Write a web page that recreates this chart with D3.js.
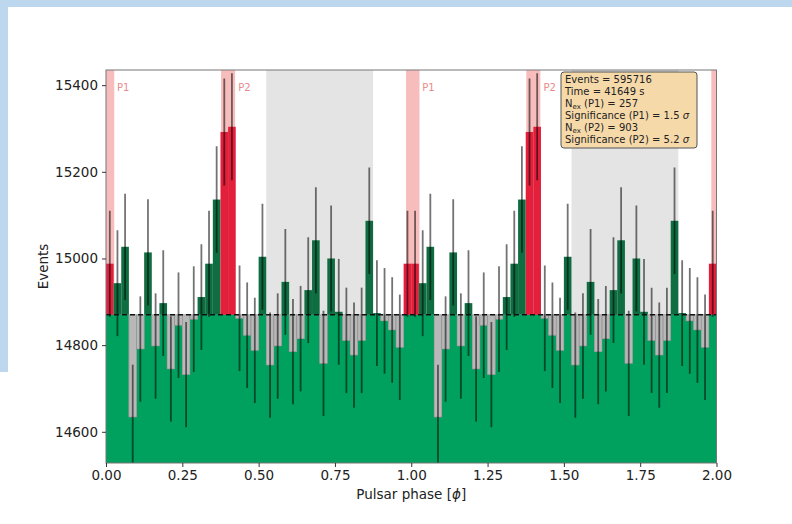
<!DOCTYPE html>
<html><head><meta charset="utf-8">
<script src="https://cdn.jsdelivr.net/npm/d3@7"></script>
<style>body{margin:0;background:#fff}svg{display:block}</style>
</head><body><svg id="c" width="792" height="524"></svg>
<script>
// ---- data ----
const counts = [
  14988,14943,15027,14634,14791,15014,14798,14897,14745,14846,
  14732,14860,14911,14988,15136,15292,15304,14862,14823,14788,
  15004,14754,14798,14946,14785,14815,14927,15042,14758,15000,
  14877,14811,14777,14811,15087,14874,14856,14835,14795,14988,
  14988,14943,15027,14634,14791,15014,14798,14897,14745,14846,
  14732,14860,14911,14988,15136,15292,15304,14862,14823,14788,
  15004,14754,14798,14946,14785,14815,14927,15042,14758,15000,
  14877,14811,14777,14811,15087,14874,14856,14835,14795,14988
];
const phaseRange = [0, 2];
const background = 14870;
const p1Bands = [[0, 0.027], [0.983, 1.027], [1.983, 2.0]];
const p2Bands = [[0.377, 0.423], [1.377, 1.423]];
const offPulseBands = [[0.525, 0.875], [1.525, 1.875]];
const bandLabels = [
  {text: "P1", phase: 0.036}, {text: "P2", phase: 0.433},
  {text: "P1", phase: 1.036}, {text: "P2", phase: 1.433}
];
const xTicks = [0, 0.25, 0.5, 0.75, 1.0, 1.25, 1.5, 1.75, 2.0];
const yTicks = [14600, 14800, 15000, 15200, 15400];
const yDomain = [14528, 15435];
const statsLines = [
  [{t: "Events = 595716"}],
  [{t: "Time = 41649 s"}],
  [{t: "N"}, {t: "ex", sub: true}, {t: " (P1) = 257", up: true}],
  [{t: "Significance (P1) = 1.5 "}, {t: "σ", it: true}],
  [{t: "N"}, {t: "ex", sub: true}, {t: " (P2) = 903", up: true}],
  [{t: "Significance (P2) = 5.2 "}, {t: "σ", it: true}]
];

// ---- layout ----
const W = 792, H = 524;
const L = 106, R = 716.5, T = 70, B = 463;
const svg = d3.select("#c");
const FONT = "DejaVu Sans, Liberation Sans, sans-serif";

svg.append("rect").attr("width", W).attr("height", H).attr("fill", "#fff");
svg.append("rect").attr("x", 0).attr("y", 0).attr("width", W).attr("height", 7).attr("fill", "#bdd7ee");
svg.append("rect").attr("x", 0).attr("y", 0).attr("width", 8).attr("height", 372).attr("fill", "#bdd7ee");

const x = d3.scaleLinear().domain(phaseRange).range([L, R]);
const y = d3.scaleLinear().domain(yDomain).range([B, T]);
const nb = counts.length;
const bw = (phaseRange[1] - phaseRange[0]) / nb;

svg.append("defs").append("clipPath").attr("id", "clip")
  .append("rect").attr("x", L).attr("y", T).attr("width", R - L).attr("height", B - T);
const g = svg.append("g").attr("clip-path", "url(#clip)");

// bands
g.selectAll("rect.off").data(offPulseBands).join("rect").attr("class", "off")
  .attr("x", d => x(d[0])).attr("width", d => x(d[1]) - x(d[0]))
  .attr("y", T).attr("height", B - T).attr("fill", "#e4e4e4");
const pinkBands = p1Bands.concat(p2Bands);
g.selectAll("rect.pink").data(pinkBands).join("rect").attr("class", "pink")
  .attr("x", d => x(d[0])).attr("width", d => x(d[1]) - x(d[0]))
  .attr("y", T).attr("height", B - T).attr("fill", "#f7bcbc");

const inBand = (c) => pinkBands.some(b => c >= b[0] && c <= b[1]);
const bins = counts.map((v, i) => {
  const x0 = phaseRange[0] + i * bw, x1 = x0 + bw, c = x0 + bw / 2;
  return {v, x0, x1, c, on: inBand(c)};
});

// base green as one step area
const stepPts = bins.map(d => ({p: d.x0, v: Math.min(d.v, background)}));
stepPts.push({p: phaseRange[1], v: Math.min(bins[nb - 1].v, background)});
g.append("path").datum(stepPts)
  .attr("d", d3.area().curve(d3.curveStepAfter).x(d => x(d.p)).y0(B).y1(d => y(d.v)))
  .attr("fill", "#00a05e");

// excess / deficit
g.selectAll("rect.ex").data(bins).join("rect").attr("class", "ex")
  .attr("x", d => x(d.x0)).attr("width", d => x(d.x1) - x(d.x0))
  .attr("y", d => y(Math.max(d.v, background)))
  .attr("height", d => Math.abs(y(d.v) - y(background)))
  .attr("fill", d => d.v >= background ? (d.on ? "#e3203c" : "#0f6d42") : "#b8b8b8")
  .attr("stroke", d => d.v >= background ? "none" : "#8a8a8a")
  .attr("stroke-width", 0.6);

// error bars
g.selectAll("line.err").data(bins).join("line").attr("class", "err")
  .attr("x1", d => x(d.c)).attr("x2", d => x(d.c))
  .attr("y1", d => y(d.v - Math.sqrt(d.v))).attr("y2", d => y(d.v + Math.sqrt(d.v)))
  .attr("stroke", "#000").attr("stroke-opacity", 0.55).attr("stroke-width", 1.8);

// background line
g.append("line").attr("x1", L).attr("x2", R).attr("y1", y(background)).attr("y2", y(background))
  .attr("stroke", "#111").attr("stroke-width", 1.4).attr("stroke-dasharray", "5,3");

// frame
svg.append("rect").attr("x", L).attr("y", T).attr("width", R - L).attr("height", B - T)
  .attr("fill", "none").attr("stroke", "#777").attr("stroke-width", 1);

// axes
const xAxis = svg.append("g").attr("transform", `translate(0,${B})`)
  .call(d3.axisBottom(x).tickValues(xTicks).tickFormat(d3.format(".2f")).tickSize(4).tickPadding(3));
const yAxis = svg.append("g").attr("transform", `translate(${L},0)`)
  .call(d3.axisLeft(y).tickValues(yTicks).tickFormat(d3.format("d")).tickSize(4).tickPadding(4));
[xAxis, yAxis].forEach(a => {
  a.select(".domain").remove();
  a.selectAll("line").attr("stroke", "#333");
  a.selectAll("text").attr("font-family", FONT).attr("font-size", 13.5).attr("fill", "#222");
});

const xl = svg.append("text").attr("x", (L + R) / 2).attr("y", 499).attr("text-anchor", "middle")
  .attr("font-family", FONT).attr("font-size", 13.5).attr("fill", "#222");
xl.append("tspan").text("Pulsar phase [");
xl.append("tspan").attr("font-style", "italic").text("ϕ");
xl.append("tspan").text("]");
svg.append("text").attr("transform", `translate(48,${(T + B) / 2}) rotate(-90)`)
  .attr("text-anchor", "middle").attr("font-family", FONT).attr("font-size", 13.5).attr("fill", "#222")
  .text("Events");

// band labels
svg.selectAll("text.bl").data(bandLabels).join("text").attr("class", "bl")
  .attr("x", d => x(d.phase)).attr("y", 91)
  .attr("font-family", FONT).attr("font-size", 10).attr("fill", "#e98a8a")
  .text(d => d.text);

// stats box
const bx = 561, by = 72, bwid = 136, bh = 76;
svg.append("rect").attr("x", bx).attr("y", by).attr("width", bwid).attr("height", bh)
  .attr("rx", 3).attr("fill", "#f6d9a9").attr("stroke", "#555").attr("stroke-width", 1);
const st = svg.append("g");
statsLines.forEach((line, i) => {
  const t = st.append("text").attr("x", bx + 4).attr("y", by + 11 + i * 12)
    .attr("font-family", FONT).attr("font-size", 10).attr("fill", "#222")
    .attr("textLength", null);
  line.forEach(seg => {
    const sp = t.append("tspan").text(seg.t);
    if (seg.sub) sp.attr("font-size", 7).attr("dy", 2);
    if (seg.up) sp.attr("dy", -2);
    if (seg.it) sp.attr("font-style", "italic");
  });
});
</script></body></html>
